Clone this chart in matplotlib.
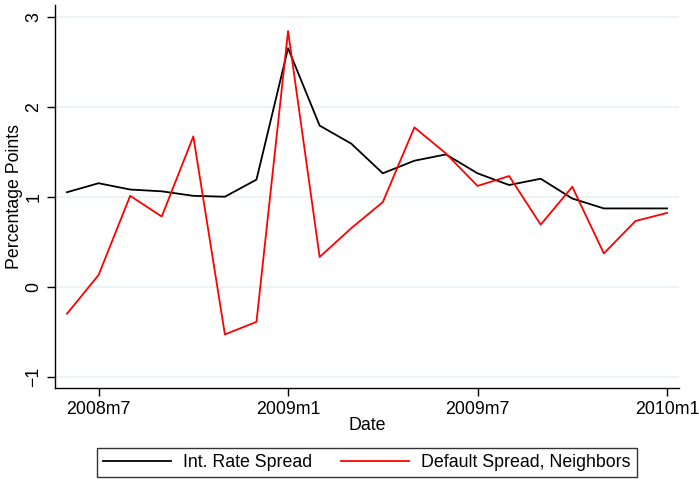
import matplotlib
matplotlib.use("Agg")
import matplotlib.pyplot as plt

plt.rcParams['font.family'] = ['Liberation Sans', 'DejaVu Sans']

# Monthly observations, 2008m6 .. 2010m1
months = ["2008m6", "2008m7", "2008m8", "2008m9", "2008m10", "2008m11", "2008m12",
          "2009m1", "2009m2", "2009m3", "2009m4", "2009m5", "2009m6", "2009m7",
          "2009m8", "2009m9", "2009m10", "2009m11", "2009m12", "2010m1"]
int_rate_spread = [1.05, 1.15, 1.08, 1.06, 1.01, 1.00, 1.19, 2.65, 1.79, 1.59,
                   1.26, 1.40, 1.47, 1.26, 1.13, 1.20, 0.98, 0.87, 0.87, 0.87]
default_spread = [-0.30, 0.13, 1.01, 0.78, 1.67, -0.53, -0.39, 2.84, 0.33, 0.65,
                  0.94, 1.77, 1.48, 1.12, 1.23, 0.69, 1.11, 0.37, 0.73, 0.82]
xtick_labels = ["2008m7", "2009m1", "2009m7", "2010m1"]
ytick_values = [-1, 0, 1, 2, 3]

x = list(range(len(months)))
xtick_pos = [months.index(m) for m in xtick_labels]

FS = 12.8

fig = plt.figure(figsize=(6.99, 4.79), dpi=100)
ax = fig.add_axes([55 / 699, (479 - 388) / 479, (678.7 - 55) / 699, (388 - 5) / 479])

grid_color = "#eaf1f3"
for v in ytick_values:
    ax.axhline(v, color=grid_color, lw=1.2, zorder=0)

l1, = ax.plot(x, int_rate_spread, color="black", lw=1.3, label="Int. Rate Spread")
l2, = ax.plot(x, default_spread, color="red", lw=1.3, label="Default Spread, Neighbors")

ax.set_xlim(-0.38, 19.37)
ax.set_ylim(-1.125, 3.13)
ax.set_xticks(xtick_pos)
ax.set_xticklabels(xtick_labels)
ax.set_yticks(ytick_values)
ax.set_yticklabels(["\u22121" if v < 0 else str(v) for v in ytick_values],
                   rotation=90, va="center")
ax.tick_params(axis="both", direction="out", length=6, width=1, labelsize=FS,
               colors="black")
ax.tick_params(axis="y", pad=3)
ax.tick_params(axis="x", pad=3)

for s in ["top", "right"]:
    ax.spines[s].set_visible(False)
for s in ["left", "bottom"]:
    ax.spines[s].set_linewidth(1)
    ax.spines[s].set_color("black")

ax.set_xlabel("Date", fontsize=FS, labelpad=0)
ax.set_ylabel("Percentage Points", fontsize=FS, labelpad=2)

leg = fig.legend(handles=[l1, l2], loc="center", bbox_to_anchor=(367 / 699, 1 - 462.5 / 479),
                 ncol=2, fontsize=FS, frameon=True, fancybox=False,
                 edgecolor="black", handlelength=3.8, handletextpad=0.7,
                 columnspacing=1.6, borderpad=0.35)
leg.get_frame().set_linewidth(1)

fig.savefig("out.png", dpi=100, facecolor="white")
